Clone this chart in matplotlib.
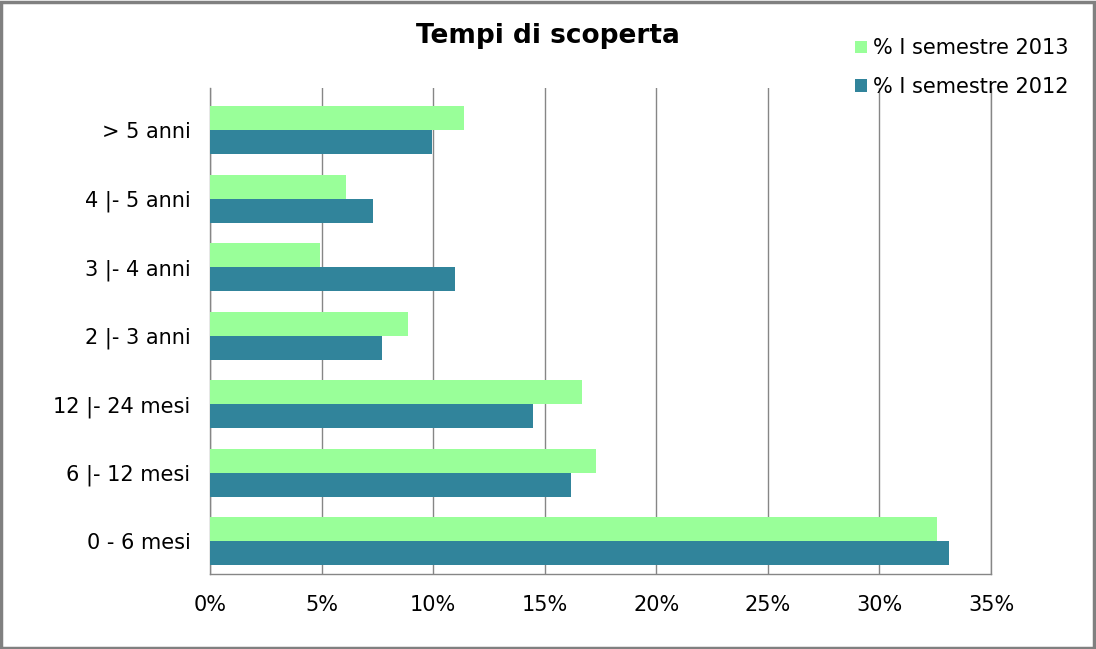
import numpy as np
import matplotlib
matplotlib.use("Agg")
import matplotlib.pyplot as plt
from matplotlib.ticker import FuncFormatter
from matplotlib.patches import Rectangle

categories = ["0 - 6 mesi", "6 |- 12 mesi", "12 |- 24 mesi", "2 |- 3 anni",
              "3 |- 4 anni", "4 |- 5 anni", "> 5 anni"]
sem_2013 = [32.57, 17.30, 16.67, 8.87, 4.93, 6.10, 11.38]
sem_2012 = [33.11, 16.17, 14.46, 7.71, 10.98, 7.31, 9.95]
x_ticks = [0, 5, 10, 15, 20, 25, 30, 35]

green = "#99ff99"
teal = "#31849b"
grid_col = "#868686"

fig = plt.figure(figsize=(10.96, 6.49), dpi=100)
ax = fig.add_axes([0.1916, 0.1156, 0.7126, 0.749])

y = np.arange(len(categories))
h = 0.35
ax.barh(y + h / 2, sem_2013, height=h, color=green, label="% I semestre 2013", zorder=3)
ax.barh(y - h / 2, sem_2012, height=h, color=teal, label="% I semestre 2012", zorder=3)

ax.set_xlim(0, 35)
ax.set_ylim(-0.48, 6.62)
ax.set_xticks(x_ticks)
ax.xaxis.set_major_formatter(FuncFormatter(lambda v, p: f"{v:.0f}%"))
ax.set_yticks(y)
ax.set_yticklabels(categories)
ax.tick_params(axis="x", length=0, pad=15, labelsize=15)
ax.tick_params(axis="y", length=0, pad=14, labelsize=15)
ax.grid(axis="x", color=grid_col, linewidth=1, zorder=0)

ax.spines["top"].set_visible(False)
for s in ["left", "bottom", "right"]:
    ax.spines[s].set_color(grid_col)
    ax.spines[s].set_linewidth(1)

fig.text(0.5, 0.944, "Tempi di scoperta", ha="center", va="center",
         fontsize=19, fontweight="bold")

leg = fig.legend(loc="upper right", bbox_to_anchor=(0.992, 0.97), frameon=False,
                 fontsize=15, handlelength=0.55, handleheight=0.55,
                 handletextpad=0.3, labelspacing=0.9)

fig.patches.append(Rectangle((0.001, 0.002), 0.997, 0.995, transform=fig.transFigure,
                             fill=False, edgecolor="#808080", linewidth=2.5))

fig.savefig("out.png", dpi=100)
